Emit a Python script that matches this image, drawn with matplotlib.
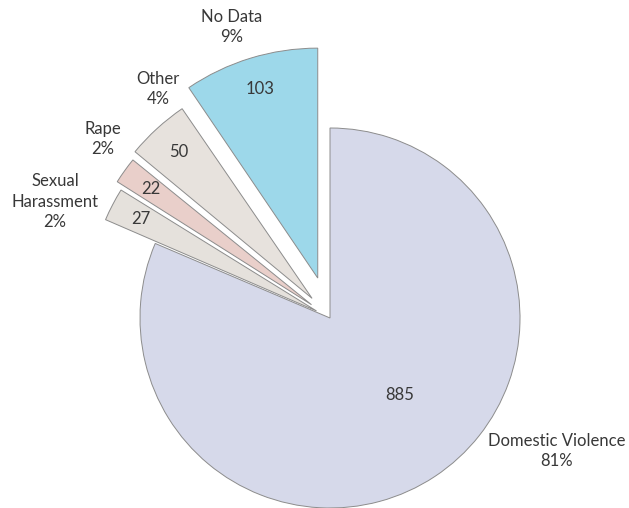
import numpy as np
import matplotlib.pyplot as plt

# Data
categories = ["Domestic Violence", "Sexual\nHarassment", "Rape", "Other", "No Data"]
counts = [885, 27, 22, 50, 103]
pct_labels = ["81%", "2%", "2%", "4%", "9%"]
colors = ["#d6d9ea", "#e5e1dc", "#e9cfca", "#e7e2dd", "#9dd8ea"]
explode = [0.0, 0.08, 0.12, 0.14, 0.22]

# category label positions (data units, pie centre at 0,0)
name_pos = [(1.195, -0.70), (-1.447, 0.611), (-1.195, 0.942), (-0.905, 1.205), (-0.516, 1.532)]

plt.rcParams["font.family"] = ["Lato", "DejaVu Sans"]
text_color = "#383838"

fig = plt.figure(figsize=(6.29, 5.08), dpi=100)
ax = fig.add_axes([0, 0, 1, 1])

wedges, _ = ax.pie(counts, colors=colors, explode=explode, startangle=90,
                   counterclock=False, radius=1.21,
                   wedgeprops=dict(edgecolor="#8c8c8c", linewidth=0.7))
# main slice is drawn smaller than the pulled-out ones
wedges[0].set_radius(1.0)
# thin white gap between the pulled-out slices
gap = 0.3
for w in wedges[1:4]:
    w.set_theta1(w.theta1 + gap)
    w.set_theta2(w.theta2 - gap)

for i, w in enumerate(wedges):
    cx, cy = w.center
    if i == 0:
        vx, vy = 0.368, -0.405
    else:
        mid = np.deg2rad((w.theta1 + w.theta2) / 2)
        vx, vy = cx + 0.86 * w.r * np.cos(mid), cy + 0.86 * w.r * np.sin(mid)
    ax.text(vx, vy, str(counts[i]), ha="center", va="center",
            fontsize=12, color=text_color)
    ax.text(*name_pos[i], categories[i] + "\n" + pct_labels[i], ha="center",
            va="center", fontsize=12, color=text_color, linespacing=1.35)

ax.set_xlim(-330 / 190, 299 / 190)
ax.set_ylim(-190 / 190, 318 / 190)
ax.set_aspect("equal")
ax.axis("off")

fig.savefig("out.png", dpi=100, facecolor="white")
